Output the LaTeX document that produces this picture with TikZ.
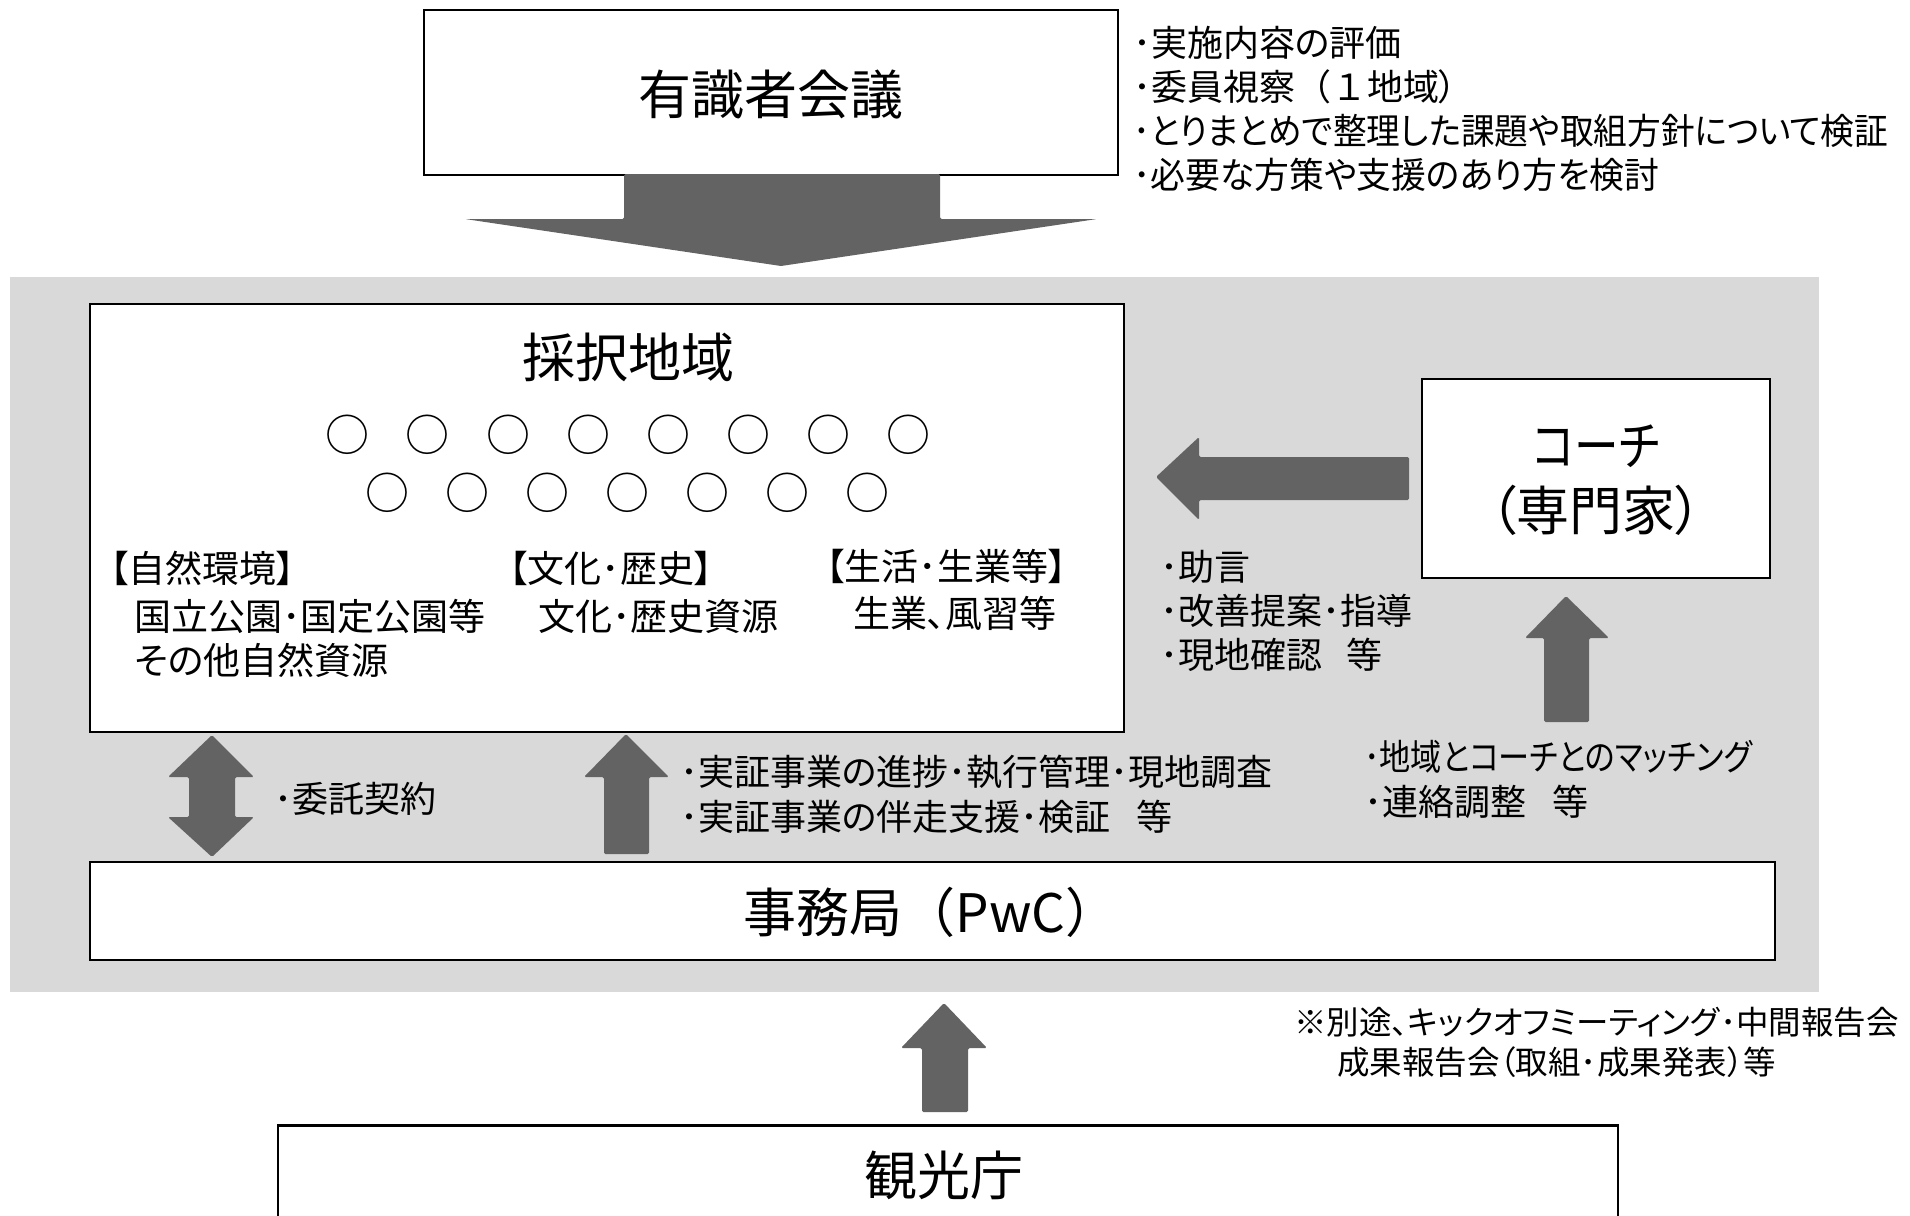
\documentclass[tikz,border=0pt]{standalone}
\usepackage{graphicx}
\usepackage{fontspec}
\setmainfont{Noto Sans CJK JP}[RawFeature=+palt]
\newfontfamily\fullw{Noto Sans CJK JP}
\definecolor{bggray}{RGB}{217,217,217}
\definecolor{arrgray}{RGB}{99,99,99}
\begin{document}
\begin{tikzpicture}[x=1pt,y=-1pt,
  box/.style={draw=black,line width=2.5pt,fill=white,inner sep=0pt},
  blockarrow/.style={fill=arrgray,rounded corners=1.5pt},
  big/.style={font=\fontsize{53}{65}\selectfont,inner sep=0pt},
  mid/.style={font=\fontsize{37}{45}\selectfont,anchor=west,inner sep=0pt},
  small/.style={font=\fontsize{36}{44}\selectfont,anchor=west,align=left,inner sep=0pt},
  note/.style={font=\fontsize{32.5}{41}\selectfont,anchor=west,inner sep=0pt},
  circ/.style={font=\fontsize{44}{44}\selectfont,inner sep=0pt}]
\useasboundingbox (0,0) rectangle (1910,1215);
\fill[white] (0,0) rectangle (1910,1215);
\fill[bggray] (10,277) rectangle (1819,992);

% boxes
\node[box,minimum width=694pt,minimum height=165pt] (expert) at (771,92.5) {};
\node[big] (experttext) at (771,95) {有識者会議};
\node[box,minimum width=1034pt,minimum height=428pt] (region) at (607,518) {};
\node[big] (regiontext) at (628,357) {採択地域};
\node[box,minimum width=348pt,minimum height=199pt] (coach) at (1596,478.5) {};
\node[big,align=center] (coachtext) at (1596,480) {\resizebox{127pt}{\height}{コーチ}\\（専門家）};
\node[box,minimum width=1685pt,minimum height=98pt] (office) at (932.5,911) {};
\node[big] (officetext) at (931,912) {事務局{\fullw （}PwC{\fullw ）}};
\node[box,minimum width=1340pt,minimum height=200pt,anchor=north] (agency) at (948,1124) {};
\node[big] (agencytext) at (944,1175) {観光庁};

% circles
\foreach \x [count=\i] in {347,427,508,588,668,748,828,908}
  \node[circ] (c1\i) at (\x,435) {○};
\foreach \x [count=\i] in {387,467,547,627,707,787,867}
  \node[circ] (c2\i) at (\x,493) {○};

% categories
\node[mid] (cat1) at (110,568) {【自然環境】};
\node[mid] (cat1a) at (134,616) {国立公園･国定公園等};
\node[mid] (cat1b) at (134,660) {その他自然資源};
\node[mid] (cat2) at (509,568) {【文化･歴史】};
\node[mid] (cat2a) at (538,616) {文化･歴史資源};
\node[mid] (cat3) at (826,566) {【生活･生業等】};
\node[mid] (cat3a) at (853,613) {生業、風習等};

% top-right text
\node[small] (t1) at (1133,43) {･実施内容の評価};
\node[small] (t2) at (1133,87) {･委員視察{\fullw （１}地域）};
\node[small] (t3) at (1133,131) {\resizebox{755pt}{\height}{･とりまとめで整理した課題や取組方針について検証}};
\node[small] (t4) at (1133,175) {\resizebox{526pt}{\height}{･必要な方策や支援のあり方を検討}};

% coach advice text
\node[small] (a1) at (1160,567) {･助言};
\node[small] (a2) at (1160,611) {･改善提案･指導};
\node[small] (a3) at (1160,655) {･現地確認\hspace{24pt}等};

% lower texts
\node[small] (k1) at (274,799) {･委託契約};
\node[small] (s1) at (680,772) {･実証事業の進捗･執行管理･現地調査};
\node[small] (s2) at (680,817) {･実証事業の伴走支援･検証\hspace{26pt}等};
\node[small] (m1) at (1364,757) {\resizebox{388pt}{\height}{･地域とコーチとのマッチング}};
\node[small] (m2) at (1364,802) {･連絡調整\hspace{26pt}等};
\node[note] (n1) at (1294,1022) {※別途、キックオフミーティング･中間報告会};
\node[note] (n2) at (1337,1062) {成果報告会（取組･成果発表）等};

% block arrows
\fill[blockarrow] (624,174) -- (940,174) -- (940,219) -- (1097,219) -- (781,266) -- (465,219) -- (624,219) -- cycle;
\fill[blockarrow] (1156,477) -- (1199,437) -- (1199,457) -- (1409,457) -- (1409,500) -- (1199,500) -- (1199,520) -- cycle;
\fill[blockarrow] (1566,596) -- (1609,638) -- (1589,638) -- (1589,722) -- (1544,722) -- (1544,638) -- (1525,638) -- cycle;
\fill[blockarrow] (212,735) -- (254,777) -- (235,777) -- (235,817) -- (254,817) -- (212,857) -- (168,817) -- (189,817) -- (189,777) -- (168,777) -- cycle;
\fill[blockarrow] (626,734) -- (669,777) -- (649,777) -- (649,854) -- (604,854) -- (604,777) -- (584,777) -- cycle;
\fill[blockarrow] (944,1003) -- (987,1048) -- (968,1048) -- (968,1112) -- (922,1112) -- (922,1048) -- (901,1048) -- cycle;
\end{tikzpicture}
\end{document}
